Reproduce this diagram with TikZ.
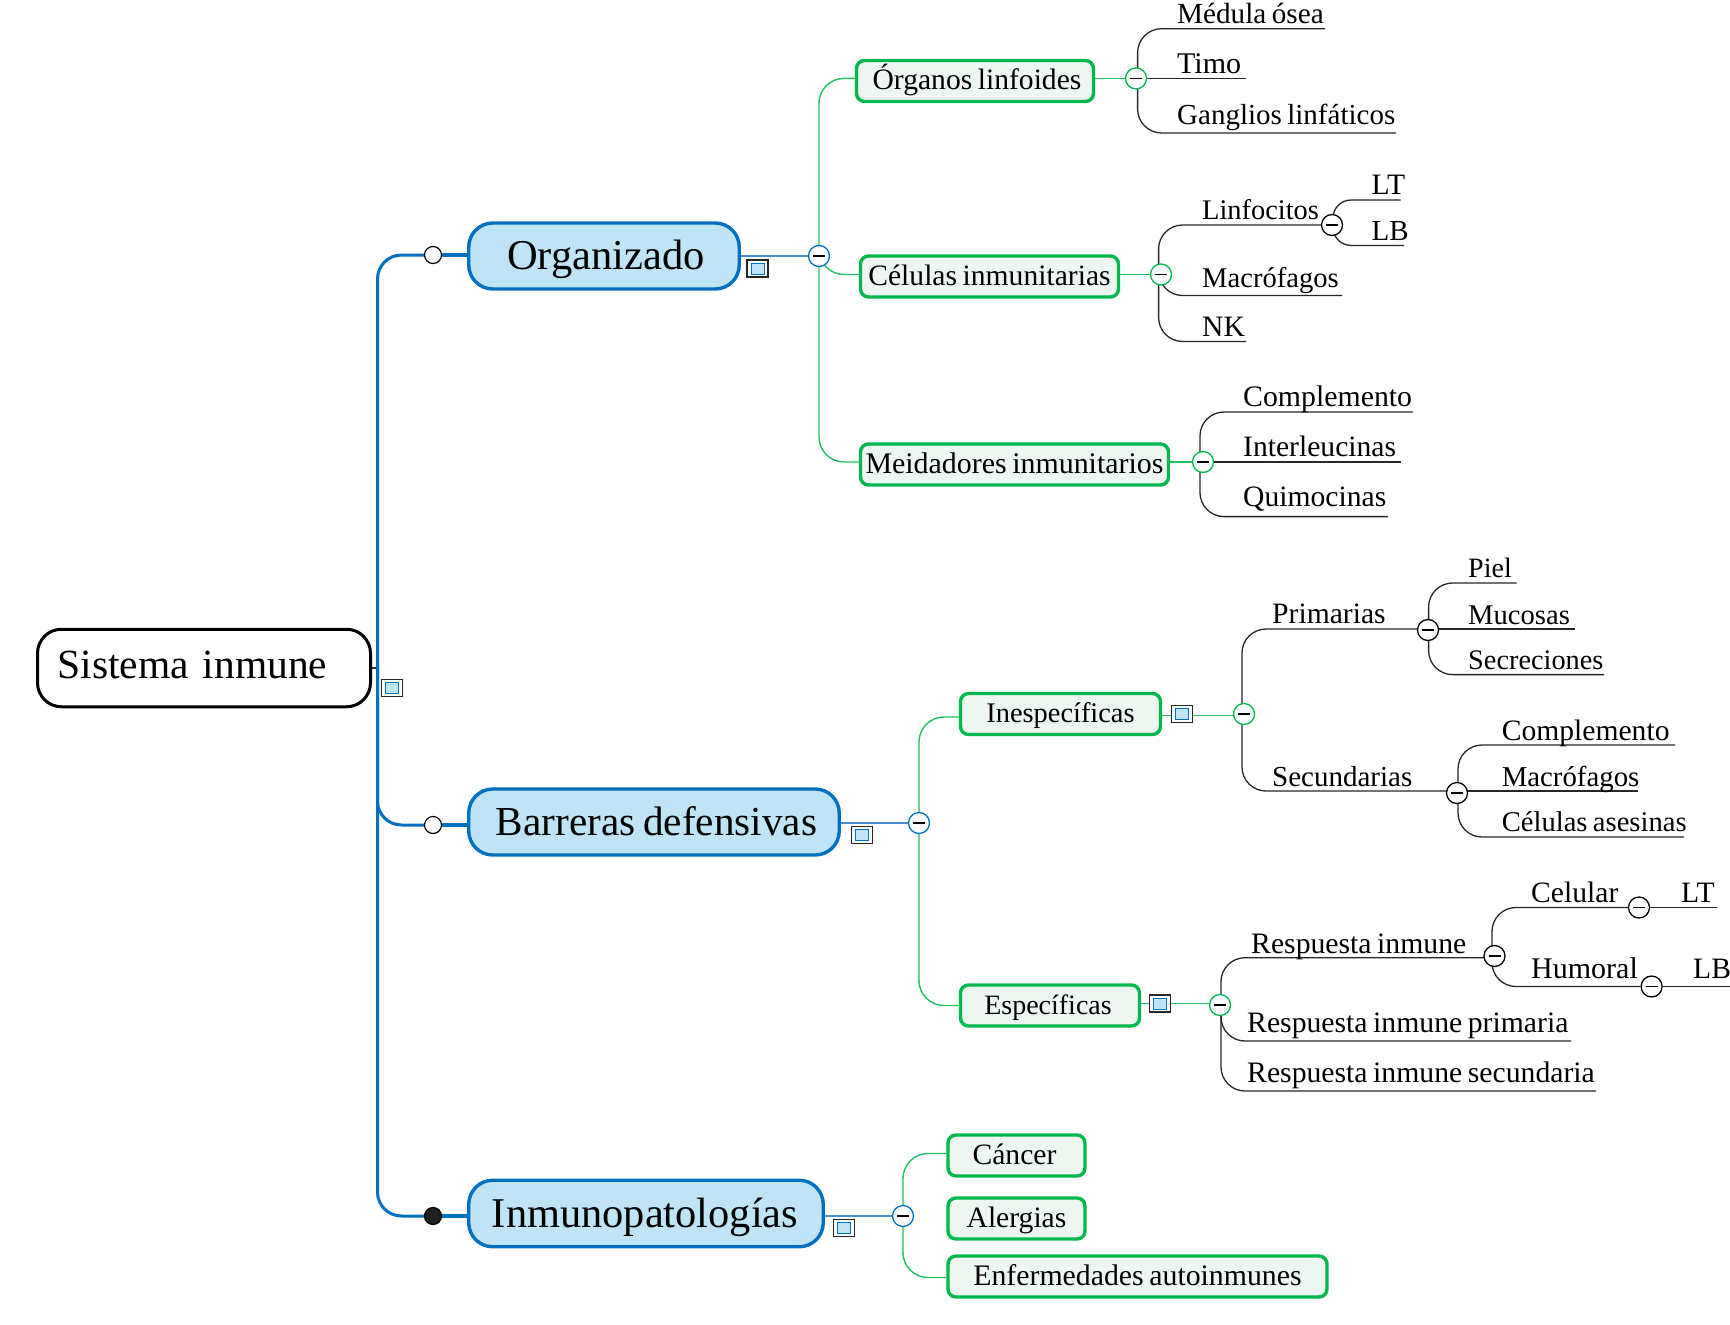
\documentclass[tikz,border=0pt]{standalone}
\usepackage{fontspec}
\setmainfont[WordSpace=0.75]{Liberation Serif}
\definecolor{mainblue}{HTML}{0070C0}
\definecolor{mainfill}{HTML}{BEE4F6}
\definecolor{linkblue}{HTML}{4A90D0}
\definecolor{subgreen}{HTML}{00B84C}
\definecolor{subfill}{HTML}{EEF6F1}
\definecolor{linkgreen}{HTML}{20C060}
\pgfdeclarelayer{bg}
\pgfsetlayers{bg,main}
\tikzset{
  x=1pt,y=-1pt,
  rootnode/.style={draw=black,fill=white,line width=3pt,rounded corners=24pt,inner ysep=0pt,inner xsep=20pt,
    font=\fontsize{41.5}{50}\selectfont,text width=293pt,align=left,text height=29pt,text depth=9pt,minimum height=77.5pt},
  mainnode/.style={draw=mainblue,fill=mainfill,line width=3.4pt,rounded corners=24pt,inner sep=0pt,
    font=\fontsize{#1}{50}\selectfont,text height=32pt,text depth=6pt,minimum height=66pt},
  mainnode/.default=42,
  subnode/.style={draw=subgreen,fill=subfill,line width=3.4pt,rounded corners=8pt,inner sep=0pt,
    font=\fontsize{#1}{35}\selectfont,text height=23pt,text depth=6pt,minimum height=41pt},
  subnode/.default=29.6,
  leaftext/.style={anchor=base west,inner sep=0pt,font=\fontsize{#1}{35}\selectfont},
  leaftext/.default=29.6,
  toggler/.style={circle,draw=#1,fill=white,line width=1.3pt,minimum size=21pt,inner sep=0pt,
    path picture={\draw[black,line width=1.3pt] ([xshift=-6pt]path picture bounding box.center) -- ([xshift=6pt]path picture bounding box.center);}},
  bullet/.style={circle,draw=black,fill=#1,line width=1.2pt,minimum size=17pt,inner sep=0pt},
  noteicon/.style={rectangle,draw=black!85,fill=white,line width=1.5pt,minimum width=21pt,minimum height=17pt,inner sep=0pt,
    path picture={\node[draw=mainblue,fill=mainfill,line width=1pt,minimum width=13pt,minimum height=11pt,inner sep=0pt] at (path picture bounding box.center) {};}},
  mainlink/.style={draw=mainblue,line width=3pt,rounded corners=24pt},
  stublink/.style={draw=mainblue,line width=4pt},
  bluelink/.style={draw=linkblue,line width=1.5pt},
  greenlink/.style={draw=linkgreen,line width=1.4pt,rounded corners=25pt},
  leaflink/.style={draw=black!85,line width=1.3pt,rounded corners=24pt},
  smalllink/.style={draw=black!85,line width=1.3pt,rounded corners=18pt},
}
\begin{document}
\begin{tikzpicture}
\useasboundingbox (0,0) rectangle (1730,1325);
% boxes
\node[rootnode] (root) at (204,668) {\mbox{Sistema inmune}};
\node[mainnode=42.5,minimum width=270.5pt] (org) at (604,256) {\hspace*{4pt}Organizado};
\node[mainnode=41.2,minimum width=370.5pt] (bar) at (654,822) {\hspace*{5pt}Barreras defensivas};
\node[mainnode=42.4,minimum width=354.5pt,minimum height=66.5pt,text height=33pt,text depth=5pt] (inm) at (646,1213.5) {Inmunopatologías\hspace*{2pt}};
\node[subnode,minimum width=237pt] (organos) at (975,81) {\hspace*{4pt}Órganos linfoides};
\node[subnode,minimum width=258pt] (celulas) at (989.5,276.5) {Células inmunitarias};
\node[subnode=29.9,minimum width=308pt] (meid) at (1014.5,464.5) {Meidadores inmunitarios};
\node[subnode=28.4,minimum width=200pt] (inesp) at (1060.5,714) {Inespecíficas};
\node[subnode=28,minimum width=179pt] (esp) at (1050,1005.5) {Específicas\hspace*{4pt}};
\node[subnode,minimum width=137pt] (cancer) at (1016.5,1155.5) {Cáncer\hspace*{4pt}};
\node[subnode,minimum width=137pt] (alerg) at (1016.5,1218.5) {Alergias};
\node[subnode=29.8,minimum width=379pt] (enf) at (1137.5,1276.5) {Enfermedades autoinmunes};
% bullets and icons
\node[bullet=white] (dotorg) at (433,255) {};
\node[bullet=white] (dotbar) at (433,825) {};
\node[bullet={black!88}] (dotinm) at (433,1216) {};
\node[noteicon] (iroot) at (392,688) {};
\node[noteicon] (iorg) at (757.5,268.5) {};
\node[noteicon] (ibar) at (862,835) {};
\node[noteicon] (iinm) at (844,1228) {};
\node[noteicon] (iine) at (1182,714) {};
\node[noteicon] (iesp) at (1160,1003.5) {};
% togglers
\node[toggler=mainblue] (torg) at (819,256) {};
\node[toggler=mainblue] (tbar) at (919,823) {};
\node[toggler=mainblue] (tinm) at (903,1216) {};
\node[toggler=subgreen] (tog) at (1136,78.4) {};
\node[toggler=subgreen] (tcel) at (1161,274.5) {};
\node[toggler=subgreen] (tmei) at (1203,462) {};
\node[toggler=subgreen] (tine) at (1244,714) {};
\node[toggler=subgreen] (tesp) at (1220,1005) {};
\node[toggler=black] (tlin) at (1332,225) {};
\node[toggler=black] (tpri) at (1428,630) {};
\node[toggler=black] (tsec) at (1457,793) {};
\node[toggler=black] (tres) at (1494.5,956) {};
\node[toggler=black] (tcelu) at (1639,907.5) {};
\node[toggler=black] (thum) at (1651.6,986.5) {};
% leaf labels
\node[leaftext=29.2] (medula) at (1177,23.7) {Médula ósea};
\node[leaftext=30] (timo) at (1177,73.4) {Timo};
\node[leaftext=29] (gang) at (1177,124.5) {Ganglios linfáticos};
\node[leaftext=28.4] (linf) at (1202,219.5) {Linfocitos};
\node[leaftext=28.6] (macro) at (1202,287.5) {Macrófagos};
\node[leaftext] (nk) at (1202,336.5) {NK};
\node[leaftext] (lt) at (1371.5,194.5) {LT};
\node[leaftext=29] (lb) at (1371.5,240.4) {LB};
\node[leaftext=29.8] (compa) at (1243,406.5) {Complemento};
\node[leaftext] (inter) at (1243,456.5) {Interleucinas};
\node[leaftext] (quim) at (1243,506) {Quimocinas};
\node[leaftext] (prim) at (1272,623) {Primarias};
\node[leaftext=28] (piel) at (1468,577) {Piel};
\node[leaftext=28.6] (muco) at (1468,624) {Mucosas};
\node[leaftext=28.3] (secr) at (1468,669.6) {Secreciones};
\node[leaftext=29] (secu) at (1272,786) {Secundarias};
\node[leaftext] (compb) at (1501.6,740) {Complemento};
\node[leaftext=28.8] (macb) at (1501.6,786) {Macrófagos};
\node[leaftext=28.6] (asesi) at (1501.6,831) {Células asesinas};
\node[leaftext=29.7] (resp) at (1251,953.2) {Respuesta inmune};
\node[leaftext] (celu) at (1531,902.2) {Celular};
\node[leaftext] (ltb) at (1681,902.2) {LT};
\node[leaftext=30] (humo) at (1531,978) {Humoral};
\node[leaftext] (lbb) at (1693,978) {LB};
\node[leaftext=29.7] (rprim) at (1247,1032) {Respuesta inmune primaria};
\node[leaftext=29.7] (rsec) at (1247,1082) {Respuesta inmune secundaria};
% free ends and junctions
\coordinate (hub) at (377.5,668);
\coordinate (jog) at (1137.6,78.4);
\coordinate (jcel) at (1158.6,274.5);
\coordinate (jlin) at (1333,225);
\coordinate (jmei) at (1200,462);
\coordinate (jine) at (1242,715.7);
\coordinate (jpri) at (1428.6,629);
\coordinate (jsec) at (1458,791);
\coordinate (jesp) at (1221,1003.5);
\coordinate (jres) at (1492,957.7);
\coordinate (emedula) at (1325,28.7);
\coordinate (etimo) at (1246,78.4);
\coordinate (egang) at (1396,133);
\coordinate (emacro) at (1342,295.5);
\coordinate (enk) at (1246,341.5);
\coordinate (elt) at (1400.5,200);
\coordinate (elb) at (1404,245.4);
\coordinate (ecompa) at (1413,412);
\coordinate (einter) at (1400.5,462);
\coordinate (equim) at (1388,516.6);
\coordinate (epiel) at (1516.6,583);
\coordinate (emuco) at (1575,629);
\coordinate (esecr) at (1604,674.6);
\coordinate (ecompb) at (1675,745);
\coordinate (emacb) at (1638,791);
\coordinate (easesi) at (1684,837);
\coordinate (eltb) at (1717,907.5);
\coordinate (elbb) at (1730,986.5);
\coordinate (erprim) at (1571,1041);
\coordinate (ersec) at (1596,1091);
\begin{pgfonlayer}{bg}
% main branches
\draw[line width=1.5pt,black!80] (root.east) -- (hub);
\draw[mainlink] (hub) |- (dotorg);
\draw[mainlink] (hub) |- (dotbar);
\draw[mainlink] (hub) |- (dotinm);
\draw[stublink] (dotorg) -- (org.west |- dotorg);
\draw[stublink] (dotbar) -- (bar.west |- dotbar);
\draw[stublink] (dotinm) -- (inm.west |- dotinm);
\draw[bluelink] (org.east |- torg) -- (torg);
\draw[bluelink] (bar.east |- tbar) -- (tbar);
\draw[bluelink] (inm.east |- tinm) -- (tinm);
% green branches
\draw[greenlink] (torg) |- (organos.west |- tog);
\draw[greenlink] (torg) |- (celulas.west |- tcel);
\draw[greenlink] (torg) |- (meid.west |- tmei);
\draw[greenlink] (tbar) |- ([yshift=-3pt]inesp.west);
\draw[greenlink] (tbar) |- (esp.west);
\draw[greenlink] (tinm) |- ([yshift=2pt]cancer.west);
\draw[greenlink] (tinm) |- ([yshift=-1pt]enf.west);
\draw[greenlink] (organos.east |- tog) -- (tog);
\draw[greenlink] (celulas.east |- tcel) -- (tcel);
\draw[greenlink] (meid.east |- tmei) -- (tmei);
\draw[greenlink] (inesp.east |- jine) -- (jine);
\draw[greenlink] (esp.east |- jesp) -- (jesp);
% leaf branches
\draw[leaflink] (jog) |- (emedula);
\draw[leaflink] (jog) -- (etimo);
\draw[leaflink] (jog) |- (egang);
\draw[leaflink] (jcel) |- (tlin);
\draw[leaflink] (jcel) |- (emacro);
\draw[leaflink] (jcel) |- (enk);
\draw[smalllink] (jlin) |- (elt);
\draw[smalllink] (jlin) |- (elb);
\draw[leaflink] (jmei) |- (ecompa);
\draw[leaflink] (jmei) -- (einter);
\draw[leaflink] (jmei) |- (equim);
\draw[leaflink] (jine) |- (jpri);
\draw[leaflink] (jine) |- (jsec);
\draw[leaflink] (jpri) |- (epiel);
\draw[leaflink] (jpri) -- (emuco);
\draw[leaflink] (jpri) |- (esecr);
\draw[leaflink] (jsec) |- (ecompb);
\draw[leaflink] (jsec) -- (emacb);
\draw[leaflink] (jsec) |- (easesi);
\draw[leaflink] (jesp) |- (jres);
\draw[leaflink] (jesp) |- (erprim);
\draw[leaflink] (jesp) |- (ersec);
\draw[leaflink] (jres) |- (tcelu);
\draw[leaflink] (jres) |- (thum);
\draw[leaflink] (tcelu) -- (eltb);
\draw[leaflink] (thum) -- (elbb);
\end{pgfonlayer}
\end{tikzpicture}
\end{document}
